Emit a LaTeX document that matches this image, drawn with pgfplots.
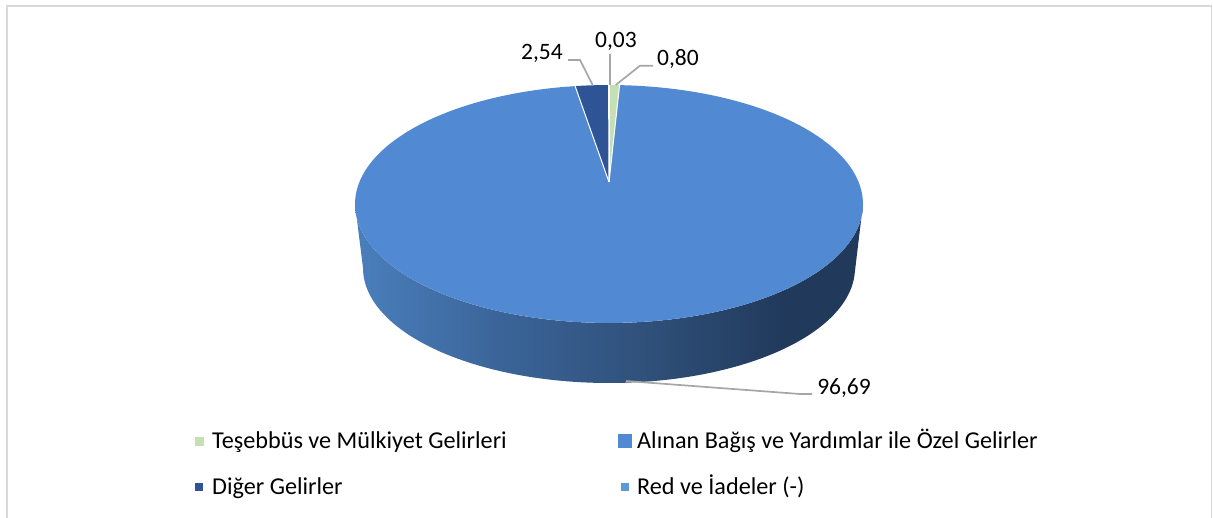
\documentclass[border=0pt]{standalone}
\usepackage{pgfplots}
\usepackage{pgfplotstable}
\usepackage{fontspec}
\pgfplotsset{compat=1.18}
\setmainfont{Carlito}
\definecolor{cgreen}{HTML}{C5E0B4}
\definecolor{cmain}{HTML}{5289D3}
\definecolor{cdark}{HTML}{2E5496}
\definecolor{cred}{HTML}{5B9BD5}
\definecolor{cline}{HTML}{A6A6A6}
\definecolor{cframe}{HTML}{D9D9D9}
\definecolor{wa}{HTML}{4A7FBC}
\definecolor{wb}{HTML}{3A6397}
\definecolor{wc}{HTML}{2F5079}
\definecolor{wd}{HTML}{213A5C}
\pgfdeclarehorizontalshading{wall}{100bp}{color(0bp)=(wa);color(25bp)=(wa);color(40bp)=(wb);color(54bp)=(wc);color(67bp)=(wd);color(75bp)=(wd);color(100bp)=(wd)}
\pgfplotstableread{
name pct
tesebbus 0.80
alinan 96.69
diger 2.54
red 0.03
}\shares
\pgfplotstablegetelem{0}{pct}\of\shares \let\pa\pgfplotsretval
\pgfplotstablegetelem{1}{pct}\of\shares \let\pb\pgfplotsretval
\pgfplotstablegetelem{2}{pct}\of\shares \let\pc\pgfplotsretval
\pgfplotstablegetelem{3}{pct}\of\shares \let\pd\pgfplotsretval
\pgfmathsetmacro\ang{360/(\pa+\pb+\pc+\pd)}
\pgfmathsetmacro\ta{\pa*\ang}
\pgfmathsetmacro\tb{(\pa+\pb)*\ang}
\pgfmathsetmacro\tc{(\pa+\pb+\pc)*\ang}
% projected pie: the apex lies above the centre of the drawn ellipse
\newcommand\px[1]{609+249.6*sin(#1)/(1+0.1849*cos(#1))}
\newcommand\py[1]{182-114.9*cos(#1)/(1+0.1849*cos(#1))}
\newcommand\lab[3]{\node[anchor=center,inner sep=0pt,font=\fontsize{#3}{#3}\selectfont] at (axis cs:#1) {#2};}
\newcommand\leg[2]{\node[anchor=base west,inner sep=0pt,font=\fontsize{24.2}{27}\selectfont] at (axis cs:#1) {#2};}
\begin{document}
\begin{tikzpicture}
\useasboundingbox (0,0) rectangle (1213pt,518pt);
\begin{axis}[
  at={(0,0)},anchor=south west,
  width=1213pt,height=518pt,scale only axis,
  xmin=0,xmax=1213,ymin=0,ymax=518,y dir=reverse,
  hide axis,clip=false,
  legend style={draw=none},
]
% frame
\addplot[cframe,line width=1.5pt] coordinates {(7,518)(7,6)(1211.5,6)(1211.5,518)};
% wall
\addplot[draw=none,shading=wall,variable=\t,domain=0:360,samples=181]
  ({\t<=180 ? 609-254*cos(\t) : 609+246*cos(\t-180)},
   {\t<=180 ? 204+119*sin(\t) : 268+115*sin(\t-180)});
% slices
\addplot[fill=cmain,draw=none,variable=\t,domain=\ta:\tb,samples=181]
  ({\px{\t}},{\py{\t}}) -- (axis cs:609,182) -- cycle;
\addplot[fill=cdark,draw=none,variable=\t,domain=\tb:\tc,samples=9]
  ({\px{\t}},{\py{\t}}) -- (axis cs:609,182) -- cycle;
\addplot[fill=cgreen,draw=none,variable=\t,domain=0:\ta,samples=5]
  ({\px{\t}},{\py{\t}}) -- (axis cs:609,182) -- cycle;
\addplot[fill=cred,draw=none,variable=\t,domain=\tc:360,samples=2]
  ({\px{\t}},{\py{\t}}) -- (axis cs:609,182) -- cycle;
% white slice borders (radial only)
\addplot[white,line width=1pt,variable=\t,samples at={\tb}] ({\px{\t}},{\py{\t}}) -- (axis cs:609,182);
\addplot[white,line width=1pt,variable=\t,samples at={\tc}] ({\px{\t}},{\py{\t}}) -- (axis cs:609,182);
\addplot[white,line width=1pt,variable=\t,samples at={\ta}] ({\px{\t}},{\py{\t}}) -- (axis cs:609,182);
\addplot[white,line width=1pt,variable=\t,samples at={0}] ({\px{\t}},{\py{\t}}) -- (axis cs:609,182);
% leaders
\addplot[cline,line width=1.7pt] coordinates {(568,60)(580,60)(592.7,85)};
\addplot[cline,line width=1.7pt] coordinates {(610,54)(610,85)};
\addplot[cline,line width=1.7pt] coordinates {(653,65.7)(640,65.7)(615.7,85)};
\addplot[cline,line width=1.7pt] coordinates {(626,381)(800,394)(812,394)};
\lab{542,53}{2,54}{23.5}
\lab{616,41}{0,03}{23.5}
\lab{678,59}{0,80}{23.5}
\lab{844,388}{96,69}{23.5}
% legend
\addplot[only marks,mark=square*,mark size=4pt,mark options={cgreen,draw=none}] coordinates {(199,441)};
\addplot[only marks,mark=square*,mark size=6.5pt,mark options={cmain,draw=none}] coordinates {(625,441)};
\addplot[only marks,mark=square*,mark size=3.5pt,mark options={cdark,draw=none}] coordinates {(199,487)};
\addplot[only marks,mark=square*,mark size=3.5pt,mark options={cred,draw=none}] coordinates {(625,487)};
\leg{212,449}{Teşebbüs ve Mülkiyet Gelirleri}
\leg{637,449}{Alınan Bağış ve Yardımlar ile Özel Gelirler}
\leg{212,494.5}{Diğer Gelirler}
\leg{637,494.5}{Red ve İadeler (-)}
\end{axis}
\end{tikzpicture}
\end{document}
